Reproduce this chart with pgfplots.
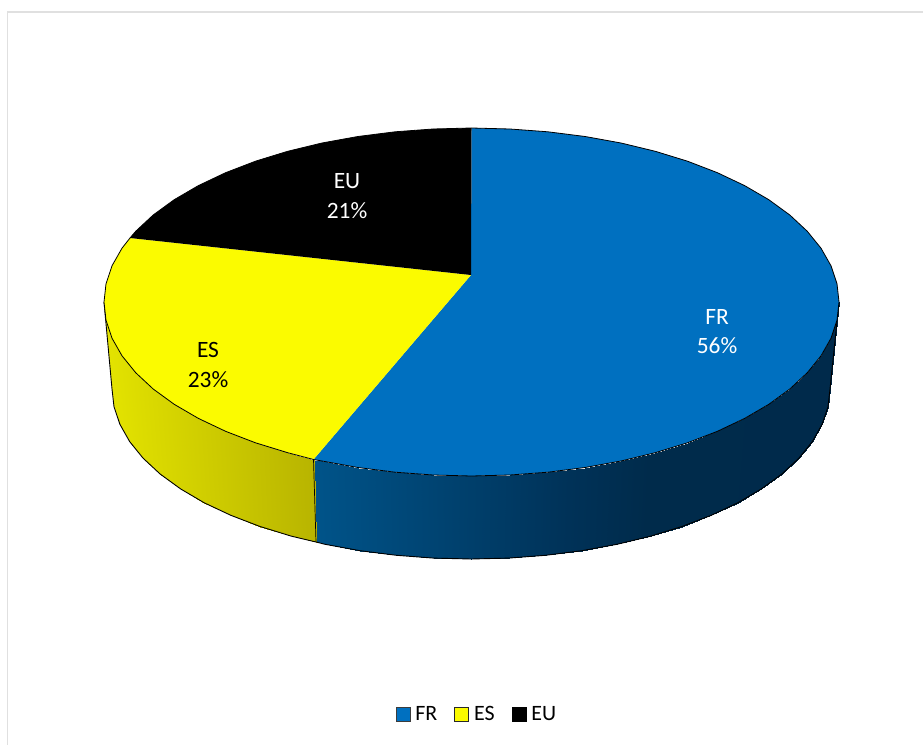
\documentclass[border=0pt]{standalone}
\usepackage{pgfplots}
\usepackage{pgfplotstable}
\usepackage{fontspec}
\setmainfont{Carlito}
\pgfplotsset{compat=1.18}
\definecolor{frblue}{RGB}{0,112,192}
\definecolor{esyellow}{RGB}{251,251,0}
% Side wall of the disc, column by column: top rim point, bottom rim point, colour position
\pgfplotstableread{
x y c
839 302 749
830 389 749
837 320.2 747
828 406.8 747
831 338.2 741
822.1 424.3 741
821 355.8 731
812.4 441.5 731
807.2 372.8 717
799 458.1 717
789.8 389 700
781.9 474 700
768.8 404.3 679
761.4 488.9 679
744.6 418.4 655
737.8 502.8 655
717.4 431.3 627
711.2 515.3 627
687.5 442.8 597
682 526.5 597
655.3 452.7 565
650.5 536.2 565
621 461 531
617 544.3 531
585.1 467.5 495
581.9 550.7 495
547.9 472.2 458
545.6 555.3 458
509.9 475 420
508.5 558.1 420
471.5 476 381
471 559 381
433.1 475 343
433.5 558.1 343
395.1 472.2 305
396.4 555.3 305
357.9 467.5 268
360.1 550.7 268
322 461 232
325 544.3 232
313.5 459.5 224
316 542 224
}\wallfr
\pgfplotstableread{
x y c
313.5 459.5 214
316 542 214
287.7 452.7 188
291.5 536.2 188
255.5 442.8 156
260 526.5 156
225.6 431.3 126
230.8 515.3 126
198.4 418.4 98
204.2 502.8 98
174.2 404.3 74
180.6 488.9 74
153.2 389 53
160.1 474 53
135.8 372.8 36
143 458.1 36
122 355.8 22
129.6 441.5 22
112 338.2 12
119.9 424.3 12
106 320.2 6
114 406.8 6
104 302 4
112 389 4
}\walles
\begin{document}
\begin{tikzpicture}
\useasboundingbox (0,0) rectangle (923bp,745bp);
\begin{axis}[
  at={(0,0)}, anchor=south west,
  scale only axis, width=923bp, height=745bp,
  xmin=0, xmax=923, ymin=0, ymax=745, y dir=reverse,
  hide axis,
  colormap={wall}{
    rgb255(0pt)=(228,228,0) rgb255(215pt)=(184,180,0)
    rgb255(220pt)=(0,84,138) rgb255(480pt)=(0,50,88)
    rgb255(560pt)=(0,43,75) rgb255(750pt)=(0,42,75)},
  colormap name=wall,
  point meta min=0, point meta max=750,
  legend columns=3,
  legend cell align=left,
  legend style={at={(axis cs:395.5,714)}, anchor=west, draw=none, fill=none,
    inner sep=0pt, outer sep=0pt,
    font=\fontsize{22}{24}\selectfont,
    /tikz/every even column/.style={column sep=15bp},
    /tikz/every odd column/.style={column sep=3bp}},
  legend image code/.code={\draw[#1] (0bp,-7bp) rectangle (14bp,7bp);},
]
% frame
\addplot[forget plot, color={rgb,255:red,224;green,224;blue,224}, line width=1.8bp]
  coordinates {(7.5,745) (7.5,12) (923,12)};

% side wall
\addplot[forget plot, surf, shader=interp, mesh/ordering=y varies, mesh/rows=2,
  point meta=\thisrow{c}] table {\wallfr};
\addplot[forget plot, surf, shader=interp, mesh/ordering=y varies, mesh/rows=2,
  point meta=\thisrow{c}] table {\walles};

% wall outline
\addplot[forget plot, black, line width=0.9bp, line join=round] coordinates {
 (839,302) (830,389) (828,406.8) (822.1,424.3) (812.4,441.5) (799,458.1)
 (781.9,474) (761.4,488.9) (737.8,502.8) (711.2,515.3) (682,526.5)
 (650.5,536.2) (617,544.3) (581.9,550.7) (545.6,555.3) (508.5,558.1)
 (471,559) (433.5,558.1) (396.4,555.3) (360.1,550.7) (325,544.3) (316,542)
 (291.5,536.2) (260,526.5) (230.8,515.3) (204.2,502.8) (180.6,488.9)
 (160.1,474) (143,458.1) (129.6,441.5) (119.9,424.3) (114,406.8) (112,389) (104,302)};
\addplot[forget plot, black, line width=0.7bp] coordinates {(313.5,459.5) (316,542)};

% top face, FR
\addplot[forget plot, draw=none, fill=frblue] coordinates {
 (471,275) (471.5,128) (509.9,129) (547.9,131.8) (585.1,136.5) (621,143)
 (655.3,151.3) (687.5,161.2) (717.4,172.7) (744.6,185.6) (768.8,199.7)
 (789.8,215) (807.2,231.2) (821,248.2) (831,265.8) (837,283.8) (839,302)
 (837,320.2) (831,338.2) (821,355.8) (807.2,372.8) (789.8,389) (768.8,404.3)
 (744.6,418.4) (717.4,431.3) (687.5,442.8) (655.3,452.7) (621,461)
 (585.1,467.5) (547.9,472.2) (509.9,475) (471.5,476) (433.1,475) (395.1,472.2)
 (357.9,467.5) (322,461) (313.5,459.5)} --cycle;
% top face, ES
\addplot[forget plot, draw=none, fill=esyellow] coordinates {
 (471,275) (313.5,459.5) (287.7,452.7) (255.5,442.8) (225.6,431.3) (198.4,418.4)
 (174.2,404.3) (153.2,389) (135.8,372.8) (122,355.8) (112,338.2) (106,320.2)
 (104,302) (106,283.8) (112,265.8) (122,248.2) (130,238)} --cycle;
% top face, EU
\addplot[forget plot, draw=none, fill=black] coordinates {
 (471,275) (130,238) (135.8,231.2) (153.2,215) (174.2,199.7) (198.4,185.6)
 (225.6,172.7) (255.5,161.2) (287.7,151.3) (322,143) (357.9,136.5) (395.1,131.8)
 (433.1,129) (471.5,128)} --cycle;

% rim of the top face
\addplot[forget plot, black, line width=0.8bp, line join=round] coordinates {
 (471.5,128) (509.9,129) (547.9,131.8) (585.1,136.5) (621,143)
 (655.3,151.3) (687.5,161.2) (717.4,172.7) (744.6,185.6) (768.8,199.7)
 (789.8,215) (807.2,231.2) (821,248.2) (831,265.8) (837,283.8) (839,302)
 (837,320.2) (831,338.2) (821,355.8) (807.2,372.8) (789.8,389) (768.8,404.3)
 (744.6,418.4) (717.4,431.3) (687.5,442.8) (655.3,452.7) (621,461)
 (585.1,467.5) (547.9,472.2) (509.9,475) (471.5,476) (433.1,475) (395.1,472.2)
 (357.9,467.5) (322,461) (313.5,459.5) (287.7,452.7) (255.5,442.8) (225.6,431.3)
 (198.4,418.4) (174.2,404.3) (153.2,389) (135.8,372.8) (122,355.8) (112,338.2)
 (106,320.2) (104,302) (106,283.8) (112,265.8) (122,248.2) (130,238)
 (135.8,231.2) (153.2,215) (174.2,199.7) (198.4,185.6) (225.6,172.7)
 (255.5,161.2) (287.7,151.3) (322,143) (357.9,136.5) (395.1,131.8)
 (433.1,129) (471.5,128)};

% slice labels
\node[anchor=base, white, font=\fontsize{23.5}{26}\selectfont] at (axis cs:717,324) {FR};
\node[anchor=base, white, font=\fontsize{23.5}{26}\selectfont] at (axis cs:717,353) {56\%};
\node[anchor=base, black, font=\fontsize{23.5}{26}\selectfont] at (axis cs:208,357) {ES};
\node[anchor=base, black, font=\fontsize{23.5}{26}\selectfont] at (axis cs:208,387) {23\%};
\node[anchor=base, white, font=\fontsize{23.5}{26}\selectfont] at (axis cs:347,188) {EU};
\node[anchor=base, white, font=\fontsize{23.5}{26}\selectfont] at (axis cs:347,218) {21\%};

% legend
\addlegendimage{draw={rgb,255:red,60;green,60;blue,60}, line width=0.8bp, fill=frblue}
\addlegendentry{FR}
\addlegendimage{draw={rgb,255:red,40;green,40;blue,40}, line width=0.8bp, fill=esyellow}
\addlegendentry{ES}
\addlegendimage{draw=black, line width=0.8bp, fill=black}
\addlegendentry{EU}
\end{axis}
\end{tikzpicture}
\end{document}
